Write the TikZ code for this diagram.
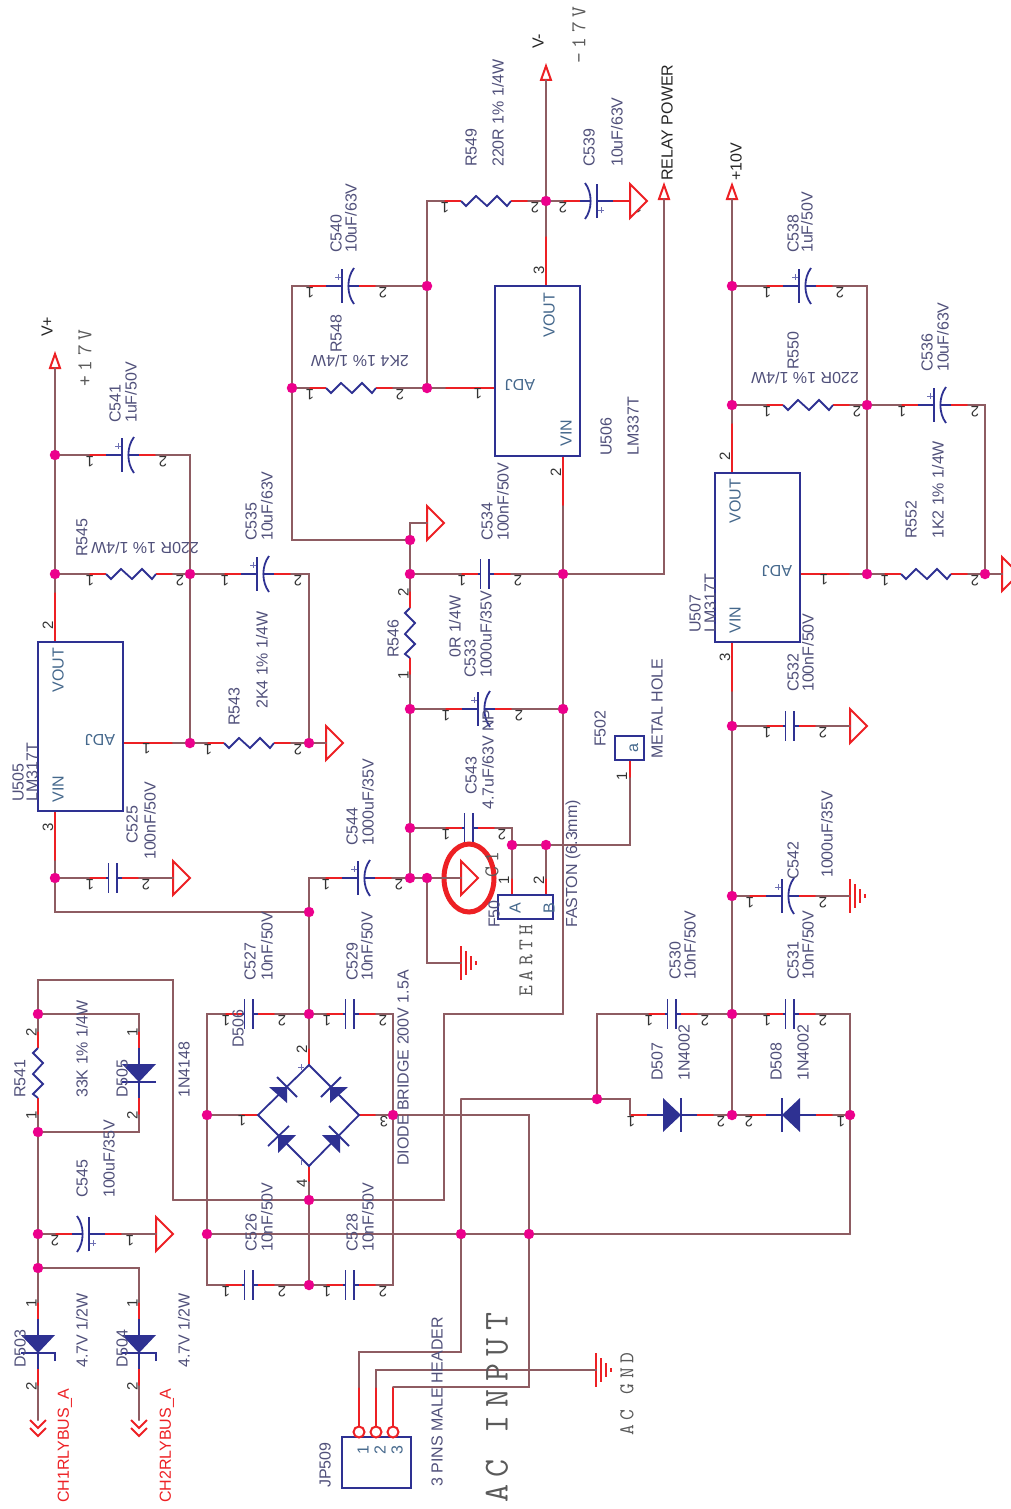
\documentclass[tikz,border=0pt]{standalone}
\usepackage{fontspec}
\usetikzlibrary{shapes.geometric}
\setmainfont{Liberation Sans}
\newfontfamily\lmtype[LetterSpace=22]{Latin Modern Mono}
\definecolor{wirecol}{HTML}{8E5C62}
\definecolor{leadcol}{HTML}{ED2024}
\definecolor{partcol}{HTML}{2E3192}
\definecolor{juncol}{HTML}{EC008C}
\definecolor{lblcol}{HTML}{50507A}
\definecolor{pincol}{HTML}{45688C}
\definecolor{monocol}{HTML}{5A5A5A}
\tikzset{
  pinrot/.store in=\pinrot, pinrot=180,
  pinone/.store in=\pinone, pinone=1,
  pintwo/.store in=\pintwo, pintwo=7,
  pinb/.store in=\pinb, pinb=6.5,
  vert/.style={rotate=-90,pinrot=90,pintwo=0},
  flip/.style={rotate=180,pinb=-6.5,pinone=-8,pintwo=0},
  wire/.style={draw=wirecol,line width=2pt,line cap=round},
  lead/.style={draw=leadcol,line width=2pt},
  part/.style={draw=partcol,line width=1.8pt},
  jun/.style={circle,fill=juncol,minimum size=10.5pt,inner sep=0pt},
  pincirc/.style={circle,draw=leadcol,fill=white,line width=2pt,minimum size=11pt,inner sep=0pt},
  chip/.style={rectangle,draw=partcol,line width=2pt,inner sep=0pt},
  pinnum/.style={font=\fontsize{15}{15}\selectfont,text=black!80,rotate=\pinrot,inner sep=0pt},
  pinv/.style={font=\fontsize{15}{15}\selectfont,text=black!80,rotate=90,inner sep=0pt},
  lbl/.style={font=\fontsize{16}{16}\selectfont,text=lblcol,rotate=90,anchor=west,inner sep=0pt},
  upside/.style={font=\fontsize{16}{16}\selectfont,text=lblcol,rotate=180,inner sep=0pt},
  dark/.style={lbl,text=black!85},
  redlbl/.style={lbl,text=leadcol},
  pinlbl/.style={lbl,anchor=center,text=pincol},
  monolbl/.style={lbl,text=monocol,font=\fontsize{21}{21}\lmtype},
  pics/resistor/.style 2 args={code={
    \coordinate (-a) at (0,0);
    \coordinate (-b) at (84,0);
    \draw[lead] (-a) -- (17,0) (67,0) -- (-b);
    \draw[part] (17,0) -- (22,5) -- (32,-5) -- (43,5) -- (53,-5) -- (63,5) -- (67,0);
    \node[pinnum] (-n) at (\pinone,\pinb) {#1};
    \node[pinnum] (-m) at (84+\pintwo,\pinb) {#2};
  }},
  pics/polcap/.style={code={
    \coordinate (-a) at (0,0);
    \coordinate (-b) at (67,0);
    \draw[lead] (-a) -- (17,0) (50,0) -- (-b);
    \draw[part] (17,0) -- (33,0) (33,-17) -- (33,17) (40,0) -- (50,0);
    \draw[part] (45,-18) .. controls (37.5,-8) and (37.5,8) .. (45,18);
    \draw[partcol!70,line width=0.8pt] (26,-9) -- (32,-9) (29,-12) -- (29,-6);
    \node[pinnum] (-n) at (\pinone,\pinb) {1};
    \node[pinnum] (-m) at (67+\pintwo,\pinb) {2};
  }},
  pics/plaincap/.style={code={
    \coordinate (-a) at (0,0);
    \coordinate (-b) at (50,0);
    \draw[lead] (-a) -- (17,0) (33,0) -- (-b);
    \draw[part] (17,0) -- (19.5,0) (19.5,-15) -- (19.5,15) (28,-15) -- (28,15) (28,0) -- (33,0);
    \node[pinnum] (-n) at (\pinone,\pinb) {1};
    \node[pinnum] (-m) at (50+\pintwo,\pinb) {2};
  }},
  pics/diode/.style={code={
    \coordinate (-a) at (0,0);
    \coordinate (-b) at (84,0);
    \draw[lead] (-a) -- (17,0) (67,0) -- (-b);
    \draw[part] (17,0) -- (33,0) (51,-17) -- (51,17) (51,0) -- (67,0);
    \fill[partcol] (33,-17) -- (51,0) -- (33,17) -- cycle;
    \node[pinnum] (-n) at (\pinone,\pinb) {1};
    \node[pinnum] (-m) at (84+\pintwo,\pinb) {2};
  }},
  pics/zener/.style={code={
    \coordinate (-a) at (0,0);
    \coordinate (-b) at (84,0);
    \draw[lead] (-a) -- (17,0) (67,0) -- (-b);
    \draw[part] (17,0) -- (33,0) (59,-17) -- (51,-17) -- (51,17) (51,0) -- (67,0);
    \fill[partcol] (33,-17) -- (51,0) -- (33,17) -- cycle;
    \node[pinnum] (-n) at (\pinone,\pinb) {1};
    \node[pinnum] (-m) at (84+\pintwo,\pinb) {2};
  }},
  pics/gnd/.style={code={
    \coordinate (-p) at (0,0);
    \draw[lead,fill=white] (0,-17) -- (17,0) -- (0,17) -- cycle;
  }},
  pics/earth/.style={code={
    \coordinate (-p) at (0,0);
    \draw[lead] (0,-17) -- (0,17) (5,-12) -- (5,12) (10,-7) -- (10,7) (15,-2) -- (15,2);
  }},
  pics/rail/.style={code={
    \coordinate (-p) at (0,0);
    \draw[lead,fill=white] (-5,0) -- (0,-14) -- (5,0) -- cycle;
  }},
  pics/chevrons/.style={code={
    \coordinate (-p) at (0,0);
    \draw[lead] (-8,0) -- (0,8) -- (8,0) (-8,8) -- (0,16) -- (8,8);
  }},
}
\begin{document}
\begin{tikzpicture}[x=1pt,y=-1pt]
\useasboundingbox (0,0) rectangle (1011,1509);
% junctions
\foreach \n/\x/\y in {a1/55/455,a2/55/574,a3/190/574,a4/190/743,a5/309/743,a6/55/878,a7/309/912,
  b1/309/1014,b2/309/1285,b3/207/1115,b4/393/1115,b5/309/1200,b6/207/1234,
  c1/38/1014,c2/38/1132,c3/38/1234,c4/38/1268,
  d1/410/540,d2/410/574,d3/410/709,d4/410/828,d5/410/878,d6/427/878,d7/512/845,d8/546/845,
  e1/292/388,e2/427/388,e3/427/286,e4/546/201,e5/563/574,e6/563/709,
  f1/732/286,f2/732/405,f3/867/405,f4/867/574,f5/985/574,f6/732/726,f7/732/896,f8/732/1014,
  f9/732/1115,f10/850/1115,f11/597/1099,f12/461/1234,f13/529/1234}
  \node[jun] (\n) at (\x,\y) {};
% corners and chip pin ends
\coordinate (tl) at (38,980);
\coordinate (tr) at (173,1200);
\coordinate (co) at (444,1014);
\coordinate (cr) at (563,1014);
\coordinate (tc) at (427,201);
\coordinate (crn) at (850,1234);
\coordinate (ac1) at (461,1099);
\coordinate (ac2) at (461,1352);
\coordinate (jp1) at (359,1387);
\coordinate (jp2) at (376,1387);
\coordinate (jp3) at (393,1387);
\coordinate (U505a) at (55,592);
\coordinate (U505b) at (173,743);
\coordinate (U505c) at (55,861);
\coordinate (U506a) at (546,236);
\coordinate (U506b) at (445,388);
\coordinate (U506c) at (563,506);
\coordinate (U507a) at (732,423);
\coordinate (U507b) at (850,574);
\coordinate (U507c) at (732,692);
\coordinate (fA) at (512,878);
\coordinate (fB) at (546,878);
\coordinate (fC) at (630,778);
\coordinate (dbT) at (309,1065);
\coordinate (dbL) at (258,1115);
\coordinate (dbB) at (309,1166);
\coordinate (dbR) at (359,1115);
\coordinate (dbTp) at (309,1048);
\coordinate (dbLp) at (241,1115);
\coordinate (dbBp) at (309,1182);
\coordinate (dbRp) at (376,1115);
% parts
\pic (railP) at (55,368) {rail};
\pic (railM) at (546,80) {rail};
\pic (railR) at (664,199) {rail};
\pic (railT) at (732,199) {rail};
\pic (C541) at (89,455) {polcap};
\pic (R545) at (89,574) {resistor={1}{2}};
\pic (C535) at (224,574) {polcap};
\pic (R543) at (207,743) {resistor={1}{2}};
\pic (gR543) at (326,743) {gnd};
\pic (C525) at (89,878) {plaincap};
\pic (gC525) at (173,878) {gnd};
\pic (C544) at (325,878) {polcap};
\pic (C527) at (225,1014) {plaincap};
\pic (C529) at (326,1014) {plaincap};
\pic (C526) at (225,1285) {plaincap};
\pic (C528) at (326,1285) {plaincap};
\pic[vert] (R541) at (38,1031) {resistor={2}{1}};
\pic[vert] (D505) at (139,1031) {diode};
\pic[flip] (C545) at (122,1234) {polcap};
\pic (gC545) at (156,1234) {gnd};
\pic[vert] (D503) at (38,1302) {zener};
\pic[vert] (D504) at (139,1302) {zener};
\pic (busA) at (38,1420) {chevrons};
\pic (busB) at (139,1420) {chevrons};
\pic (C540) at (309,286) {polcap};
\pic (R548) at (309,388) {resistor={1}{2}};
\pic (R549) at (444,201) {resistor={1}{2}};
\pic[flip] (C539) at (630,201) {polcap};
\pic (gC539) at (630,201) {gnd};
\pic (gR546) at (427,523) {gnd};
\pic (C534) at (461,574) {plaincap};
\pic[vert] (R546) at (410,591) {resistor={2}{1}};
\pic (C533) at (445,709) {polcap};
\pic (C543) at (445,828) {plaincap};
\pic (gD6) at (461,878) {gnd};
\pic (eD6) at (461,963) {earth};
\pic (C538) at (766,286) {polcap};
\pic (R550) at (766,405) {resistor={1}{2}};
\pic (C536) at (901,405) {polcap};
\pic (R552) at (884,574) {resistor={1}{2}};
\pic (gR552) at (1002,574) {gnd};
\pic (C532) at (766,726) {plaincap};
\pic (gC532) at (850,726) {gnd};
\pic (C542) at (749,896) {polcap};
\pic (eC542) at (850,896) {earth};
\pic (C530) at (648,1014) {plaincap};
\pic (C531) at (766,1014) {plaincap};
\pic (D507) at (630,1115) {diode};
\pic[flip] (D508) at (833,1115) {diode};
\pic (eAC) at (596,1370) {earth};
% chips
\node[chip,minimum width=85pt,minimum height=169pt] (U505) at (80.5,726.5) {};
\node[chip,minimum width=85pt,minimum height=170pt] (U506) at (537,371) {};
\node[chip,minimum width=85pt,minimum height=169pt] (U507) at (757.5,557.5) {};
\node[chip,minimum width=55pt,minimum height=24pt] (F501) at (525.5,907) {};
\node[chip,minimum width=29pt,minimum height=24pt] (F502) at (629.5,748) {};
\node[chip,minimum width=69pt,minimum height=51pt] (JP509) at (376.5,1462.5) {};
\node[pincirc] (jpc1) at (359,1432) {};
\node[pincirc] (jpc2) at (376,1432) {};
\node[pincirc] (jpc3) at (393,1432) {};
% red pin stubs
\draw[lead] (U505a) -- (U505a |- U505.north);
\draw[lead] (U505b) -- (U505b -| U505.east);
\draw[lead] (U505c) -- (U505c |- U505.south);
\draw[lead] (U506a) -- (U506a |- U506.north);
\draw[lead] (U506b) -- (U506b -| U506.west);
\draw[lead] (U506c) -- (U506c |- U506.south);
\draw[lead] (U507a) -- (U507a |- U507.north);
\draw[lead] (U507b) -- (U507b -| U507.east);
\draw[lead] (U507c) -- (U507c |- U507.south);
\draw[lead] (fA) -- (fA |- F501.north);
\draw[lead] (fB) -- (fB |- F501.north);
\draw[lead] (fC) -- (fC |- F502.south);
\draw[lead] (jp1) -- (jpc1);
\draw[lead] (jp2) -- (jpc2);
\draw[lead] (jp3) -- (jpc3);
\draw[lead] (dbTp) -- (dbT);
\draw[lead] (dbLp) -- (dbL);
\draw[lead] (dbBp) -- (dbB);
\draw[lead] (dbRp) -- (dbR);
% diode bridge
\draw[part] (dbT) -- (dbL) -- (dbB) -- (dbR) -- cycle;
\fill[partcol] (269,1087) -- (287,1087) -- (287,1103) -- cycle;
\fill[partcol] (330,1087) -- (348,1087) -- (330,1103) -- cycle;
\fill[partcol] (278,1135) -- (296,1135) -- (278,1153) -- cycle;
\fill[partcol] (322,1135) -- (340,1135) -- (340,1153) -- cycle;
\draw[part] (277,1077) -- (297,1097);
\draw[part] (321,1097) -- (341,1077);
\draw[part] (268,1146) -- (289,1126);
\draw[part] (329,1126) -- (349,1146);
\draw[partcol!70,line width=0.8pt] (298,1067) -- (304,1067) (301,1064) -- (301,1070) (301,1159) -- (301,1165);
% marker round the triangle
\draw[leadcol,line width=5pt] (469,878) ellipse [x radius=25pt,y radius=34pt];
% wires: left rail
\draw[wire] (railP-p) -- (a1);
\draw[wire] (a1) -- (a2);
\draw[wire] (a2) -- (U505a);
\draw[wire] (a1) -- (C541-a);
\draw[wire] (C541-b) -| (a3);
\draw[wire] (a2) -- (R545-a);
\draw[wire] (R545-b) -- (a3);
\draw[wire] (a3) -- (C535-a);
\draw[wire] (C535-b) -| (a5);
\draw[wire] (a3) -- (a4);
\draw[wire] (U505b) -- (a4);
\draw[wire] (a4) -- (R543-a);
\draw[wire] (R543-b) -- (a5);
\draw[wire] (a5) -- (gR543-p);
\draw[wire] (U505c) -- (a6);
\draw[wire] (a6) -- (C525-a);
\draw[wire] (C525-b) -- (gC525-p);
\draw[wire] (a6) |- (a7);
\draw[wire] (a7) |- (C544-a);
\draw[wire] (C544-b) -- (d5);
\draw[wire] (a7) -- (b1);
% wires: bridge
\draw[wire] (b1) -- (dbTp);
\draw[wire] (dbBp) -- (b5);
\draw[wire] (b5) -- (b2);
\draw[wire] (b3) -- (dbLp);
\draw[wire] (b4) -- (dbRp);
\draw[wire] (b3) |- (C527-a);
\draw[wire] (C527-b) -- (b1);
\draw[wire] (b1) -- (C529-a);
\draw[wire] (C529-b) -| (b4);
\draw[wire] (b3) -- (b6);
\draw[wire] (b6) |- (C526-a);
\draw[wire] (C526-b) -- (b2);
\draw[wire] (b2) -- (C528-a);
\draw[wire] (C528-b) -| (b4);
\draw[wire] (b4) -| (f13);
% wires: relay supply
\draw[wire] (c1) -- (tl) -| (tr);
\draw[wire] (tr) -- (b5);
\draw[wire] (b5) -| (co) -- (cr);
\draw[wire] (c1) -- (R541-a);
\draw[wire] (R541-b) -- (c2);
\draw[wire] (c1) -| (D505-a);
\draw[wire] (D505-b) |- (c2);
\draw[wire] (c2) -- (c3);
\draw[wire] (c3) -- (c4);
\draw[wire] (c3) -- (C545-b);
\draw[wire] (C545-a) -- (gC545-p);
\draw[wire] (c4) -- (D503-a);
\draw[wire] (c4) -| (D504-a);
\draw[wire] (D503-b) -- (busA-p);
\draw[wire] (D504-b) -- (busB-p);
% wires: negative regulator
\draw[wire] (railM-p) -- (e4);
\draw[wire] (e4) -- (U506a);
\draw[wire] (e4) -- (R549-b);
\draw[wire] (R549-a) -- (tc) -- (e3);
\draw[wire] (e4) -- (C539-b);
\draw[wire] (e3) -- (C540-b);
\draw[wire] (C540-a) -| (e1);
\draw[wire] (e3) -- (e2);
\draw[wire] (e1) -- (R548-a);
\draw[wire] (R548-b) -- (e2);
\draw[wire] (e2) -- (U506b);
\draw[wire] (e1) |- (d1);
\draw[wire] (d1) |- (gR546-p);
\draw[wire] (d1) -- (d2);
\draw[wire] (d2) -- (C534-a);
\draw[wire] (C534-b) -- (e5);
\draw[wire] (d2) -- (R546-a);
\draw[wire] (R546-b) -- (d3);
\draw[wire] (d3) -- (d4);
\draw[wire] (d4) -- (d5);
\draw[wire] (d5) -- (d6);
\draw[wire] (d6) -- (gD6-p);
\draw[wire] (d6) |- (eD6-p);
\draw[wire] (d3) -- (C533-a);
\draw[wire] (C533-b) -- (e6);
\draw[wire] (d4) -- (C543-a);
\draw[wire] (C543-b) -| (d7);
\draw[wire] (d7) -- (fA);
\draw[wire] (d7) -- (d8);
\draw[wire] (d8) -- (fB);
\draw[wire] (d8) -| (fC);
\draw[wire] (U506c) -- (e5);
\draw[wire] (e5) -- (e6);
\draw[wire] (e6) -- (cr);
\draw[wire] (e5) -| (railR-p);
% wires: positive regulator
\draw[wire] (railT-p) -- (f1);
\draw[wire] (f1) -- (f2);
\draw[wire] (f2) -- (U507a);
\draw[wire] (f1) -- (C538-a);
\draw[wire] (C538-b) -| (f3);
\draw[wire] (f2) -- (R550-a);
\draw[wire] (R550-b) -- (f3);
\draw[wire] (f3) -- (f4);
\draw[wire] (f3) -- (C536-a);
\draw[wire] (C536-b) -| (f5);
\draw[wire] (U507b) -- (f4);
\draw[wire] (f4) -- (R552-a);
\draw[wire] (R552-b) -- (f5);
\draw[wire] (f5) -- (gR552-p);
\draw[wire] (U507c) -- (f6);
\draw[wire] (f6) -- (f7);
\draw[wire] (f7) -- (f8);
\draw[wire] (f8) -- (f9);
\draw[wire] (f6) -- (C532-a);
\draw[wire] (C532-b) -- (gC532-p);
\draw[wire] (f7) -- (C542-a);
\draw[wire] (C542-b) -- (eC542-p);
\draw[wire] (f11) |- (C530-a);
\draw[wire] (C530-b) -- (f8);
\draw[wire] (f8) -- (C531-a);
\draw[wire] (C531-b) -| (f10);
\draw[wire] (f11) -| (D507-a);
\draw[wire] (D507-b) -- (f9);
\draw[wire] (f9) -- (D508-b);
\draw[wire] (D508-a) -- (f10);
\draw[wire] (f10) -- (crn);
% wires: AC input
\draw[wire] (crn) -- (f13);
\draw[wire] (f13) -- (f12);
\draw[wire] (f12) -- (b6);
\draw[wire] (f11) -- (ac1);
\draw[wire] (ac1) -- (f12);
\draw[wire] (f12) -- (ac2) -| (jp1);
\draw[wire] (jp2) |- (eAC-p);
\draw[wire] (f13) |- (jp3);
% chip pin numbers
\node[pinv] (nU505a) at (48,625) {2};
\node[pinnum] (nU505b) at (146.5,749) {1};
\node[pinv] (nU505c) at (48,827) {3};
\node[pinv] (nU506a) at (539,270) {3};
\node[pinnum] (nU506b) at (478,394) {1};
\node[pinv] (nU506c) at (556,472) {2};
\node[pinv] (nU507a) at (725,456) {2};
\node[pinnum] (nU507b) at (824,580) {1};
\node[pinv] (nU507c) at (725,657) {3};
\node[pinv] (nfA) at (504,880) {1};
\node[pinv] (nfB) at (539,880) {2};
\node[pinv] (nfC) at (622,776) {1};
\node[pinv] (ndbT) at (302,1049) {2};
\node[pinnum] (ndbL) at (242,1121) {1};
\node[pinv] (ndbB) at (302,1183) {4};
\node[pinnum] (ndbR) at (384,1122) {3};
% chip texts
\node[pinlbl] (tU505o) at (58,670) {VOUT};
\node[pinlbl] (tU505i) at (58,789) {VIN};
\node[upside,text=pincol] (tU505j) at (100,740) {ADJ};
\node[pinlbl] (tU506o) at (549,315) {VOUT};
\node[pinlbl] (tU506i) at (566,433) {VIN};
\node[upside,text=pincol] (tU506j) at (520,385) {ADJ};
\node[pinlbl] (tU507o) at (735,501) {VOUT};
\node[pinlbl] (tU507i) at (735,620) {VIN};
\node[upside,text=pincol] (tU507j) at (777,571) {ADJ};
\node[pinlbl] (tFa) at (515,908) {A};
\node[pinlbl] (tFb) at (549,908) {B};
\node[pinlbl] (tFc) at (634,748) {a};
\node[pinlbl] (tJ1) at (363,1450) {1};
\node[pinlbl] (tJ2) at (380,1450) {2};
\node[pinlbl] (tJ3) at (397,1450) {3};
% part names and values
\node[dark] (tVp) at (47,337) {V+};
\node[dark] (tVm) at (538,49) {V-};
\node[dark] (tRelay) at (667,181) {RELAY POWER};
\node[dark] (tTen) at (736,181) {+10V};
\node[monolbl] (tP17) at (85,387) {+17V};
\node[monolbl] (tM17) at (579,64) {-17V};
\node[monolbl] (tEarth) at (526,997) {EARTH};
\node[monolbl] (tGnd) at (627,1436) {AC GND};
\node[monolbl,font=\fontsize{35}{35}\lmtype] (tAC) at (497,1503) {AC INPUT};
\node[monolbl] (tC1) at (492,878) {C1};
\node[redlbl] (tCh1) at (65,1503) {CH1RLYBUS\_A};
\node[redlbl] (tCh2) at (167,1503) {CH2RLYBUS\_A};
\node[lbl] (tU505) at (18,802) {U505};
\node[lbl] (tL505) at (32,802) {LM317T};
\node[lbl] (tU506) at (606,456) {U506};
\node[lbl] (tL506) at (633,456) {LM337T};
\node[lbl] (tU507) at (695,633) {U507};
\node[lbl] (tL507) at (710,633) {LM317T};
\node[lbl] (tC541) at (115,423) {C541};
\node[lbl] (vC541) at (131,423) {1uF/50V};
\node[lbl] (tR545) at (82,557) {R545};
\node[upside] (vR545) at (145,548) {220R 1\% 1/4W};
\node[lbl] (tC535) at (251,541) {C535};
\node[lbl] (vC535) at (267,541) {10uF/63V};
\node[lbl] (tR543) at (234,726) {R543};
\node[lbl] (vR543) at (262,709) {2K4 1\% 1/4W};
\node[lbl] (tC525) at (132,844) {C525};
\node[lbl] (vC525) at (150,860) {100nF/50V};
\node[lbl] (tC544) at (352,846) {C544};
\node[lbl] (vC544) at (368,846) {1000uF/35V};
\node[lbl] (tC527) at (250,981) {C527};
\node[lbl] (vC527) at (267,981) {10nF/50V};
\node[lbl] (tC529) at (352,981) {C529};
\node[lbl] (vC529) at (367,981) {10nF/50V};
\node[lbl] (tC526) at (251,1252) {C526};
\node[lbl] (vC526) at (267,1252) {10nF/50V};
\node[lbl] (tC528) at (352,1252) {C528};
\node[lbl] (vC528) at (368,1252) {10nF/50V};
\node[lbl] (tD506) at (238,1048) {D506};
\node[lbl] (vD506) at (403,1166) {DIODE BRIDGE 200V 1.5A};
\node[lbl] (tR541) at (20,1098) {R541};
\node[lbl] (vR541) at (82,1098) {33K 1\% 1/4W};
\node[lbl] (tD505) at (122,1098) {D505};
\node[lbl] (vD505) at (184,1098) {1N4148};
\node[lbl] (tC545) at (82,1198) {C545};
\node[lbl] (vC545) at (109,1198) {100uF/35V};
\node[lbl] (tD503) at (20,1368) {D503};
\node[lbl] (vD503) at (82,1368) {4.7V 1/2W};
\node[lbl] (tD504) at (122,1368) {D504};
\node[lbl] (vD504) at (184,1368) {4.7V 1/2W};
\node[lbl] (tC540) at (336,253) {C540};
\node[lbl] (vC540) at (351,253) {10uF/63V};
\node[lbl] (tR548) at (336,353) {R548};
\node[upside] (vR548) at (360,361) {2K4 1\% 1/4W};
\node[lbl] (tR549) at (471,167) {R549};
\node[lbl] (vR549) at (498,167) {220R 1\% 1/4W};
\node[lbl] (tC539) at (589,167) {C539};
\node[lbl] (vC539) at (617,167) {10uF/63V};
\node[lbl] (tC534) at (487,541) {C534};
\node[lbl] (vC534) at (503,541) {100nF/50V};
\node[lbl] (tR546) at (393,658) {R546};
\node[lbl] (vR546) at (455,658) {0R 1/4W};
\node[lbl] (tC533) at (470,678) {C533};
\node[lbl] (vC533) at (486,678) {1000uF/35V};
\node[lbl] (tC543) at (471,795) {C543};
\node[lbl] (vC543) at (488,810) {4.7uF/63V NP};
\node[lbl] (tF501) at (494,928) {F50};
\node[lbl] (vF501) at (573,928) {FASTON (6.3mm)};
\node[lbl] (tF502) at (600,747) {F502};
\node[lbl] (vF502) at (657,759) {METAL HOLE};
\node[lbl] (tC538) at (793,253) {C538};
\node[lbl] (vC538) at (807,253) {1uF/50V};
\node[lbl] (tR550) at (793,370) {R550};
\node[upside] (vR550) at (805,378) {220R 1\% 1/4W};
\node[lbl] (tC536) at (927,372) {C536};
\node[lbl] (vC536) at (943,372) {10uF/63V};
\node[lbl] (tR552) at (911,539) {R552};
\node[lbl] (vR552) at (938,539) {1K2 1\% 1/4W};
\node[lbl] (tC532) at (793,692) {C532};
\node[lbl] (vC532) at (808,692) {100nF/50V};
\node[lbl] (tC542) at (793,880) {C542};
\node[lbl] (vC542) at (827,878) {1000uF/35V};
\node[lbl] (tC530) at (675,980) {C530};
\node[lbl] (vC530) at (690,980) {10nF/50V};
\node[lbl] (tC531) at (793,980) {C531};
\node[lbl] (vC531) at (808,980) {10nF/50V};
\node[lbl] (tD507) at (657,1081) {D507};
\node[lbl] (vD507) at (684,1081) {1N4002};
\node[lbl] (tD508) at (776,1081) {D508};
\node[lbl] (vD508) at (803,1081) {1N4002};
\node[lbl] (tJP509) at (325,1488) {JP509};
\node[lbl] (vJP509) at (437,1487) {3 PINS MALE HEADER};
\end{tikzpicture}
\end{document}
